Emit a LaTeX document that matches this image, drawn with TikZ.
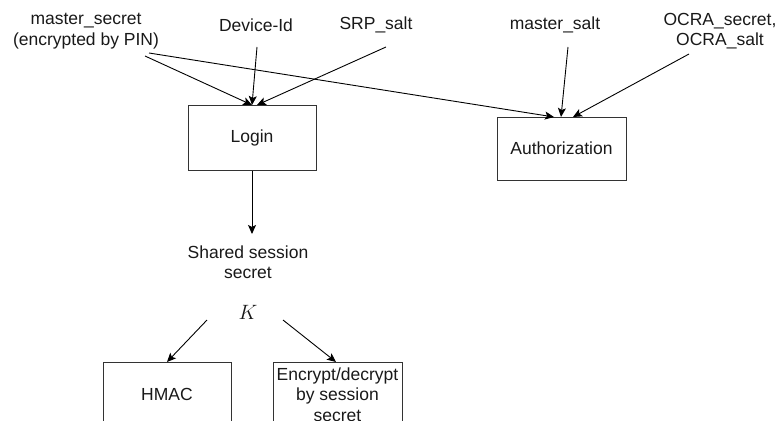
\documentclass[tikz,border=0pt]{standalone}
\usepackage{fontspec}
\setmainfont{Liberation Sans}
\usetikzlibrary{arrows.meta}
\begin{document}
\begin{tikzpicture}[x=1pt,y=-1pt,
  every node/.style={font=\fontsize{17.5}{20.5}\selectfont, inner sep=0pt, text=black!90},
  box/.style={draw=black!80, line width=1pt, minimum width=128pt, minimum height=65pt, align=center},
  lbl/.style={align=center},
  arr/.style={draw=black, line width=0.9pt, -{Stealth[length=9pt,width=8pt,inset=2pt]}}
]
\useasboundingbox (0,0) rectangle (781,420);
% labels
\node[lbl] (ms) at (86,31) {master\_secret\\(encrypted by PIN)};
\node[lbl] (dev) at (256,25) {Device-Id};
\node[lbl] (srp) at (376,25) {SRP\_salt};
\node[lbl] (msalt) at (555,25) {master\_salt};
\node[lbl] (ocra) at (720,31) {OCRA\_secret,\\OCRA\_salt};
% boxes
\node[box] (login) at (252,137.5) {Login};
\node[box, minimum width=129pt, minimum height=63pt] (auth) at (561.5,148.5) {Authorization};
\node[lbl] (shared) at (248,262) {Shared session\\secret};
\node (k) at (248,312) {\fontsize{21}{21}\selectfont$K$};
\node[box] (hmac) at (167,394.5) {HMAC};
\node[box, minimum width=129pt] (enc) at (337.5,394.5) {Encrypt/decrypt\\by session\\secret};
% start points
\coordinate (ms1) at (145,56);
\coordinate (ms2) at (149,53);
\coordinate (dev1) at (257,47);
\coordinate (srp1) at (386,47);
\coordinate (msalt1) at (568,47);
\coordinate (ocra1) at (689,54);
\coordinate (k1) at (207,320);
\coordinate (k2) at (283,320);
\coordinate (loginT) at (252,105);
\coordinate (loginT2) at (257,105);
\coordinate (authT) at (554,117);
\coordinate (authT2) at (561,117);
\coordinate (authT3) at (573,117);
\coordinate (sharedT) at (252,234);
\coordinate (hmacT) at (167,362);
\coordinate (encT) at (336,362);
% arrows
\draw[arr] (ms1) -- (loginT);
\draw[arr] (dev1) -- (loginT);
\draw[arr] (srp1) -- (loginT2);
\draw[arr] (ms2) -- (authT);
\draw[arr] (msalt1) -- (authT2);
\draw[arr] (ocra1) -- (authT3);
\draw[arr] (login.south) -- (sharedT);
\draw[arr] (k1) -- (hmacT);
\draw[arr] (k2) -- (encT);
\end{tikzpicture}
\end{document}
